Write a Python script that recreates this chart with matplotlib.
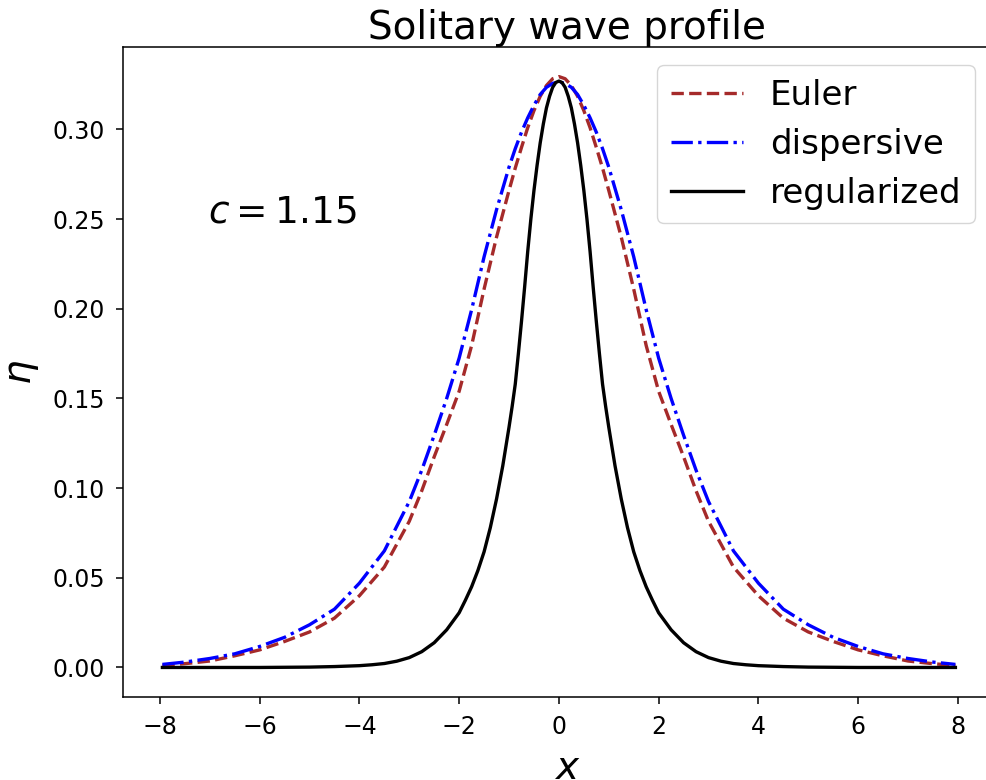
import numpy as np
import matplotlib
matplotlib.use("Agg")
import matplotlib.pyplot as plt

# values (curves are symmetric about x = 0)
x_euler_half = [0.0, 0.125, 0.25, 0.375, 0.5, 0.625, 0.75, 0.875, 1.0, 1.25, 1.5,
                1.75, 2.0, 2.25, 2.5, 2.75, 3.0, 3.5, 4.0, 4.5, 5.0, 5.5, 6.0,
                6.5, 7.0, 7.5, 7.95]
eta_euler_half = [0.3295, 0.3283, 0.3245, 0.3185, 0.3105, 0.3010, 0.2900, 0.2785,
                  0.2660, 0.2400, 0.2110, 0.1795, 0.1540, 0.1355, 0.1175, 0.0985,
                  0.0815, 0.0560, 0.0400, 0.0275, 0.0198, 0.0145, 0.0098, 0.0065,
                  0.0036, 0.0021, 0.0011]

x_disp_half = [0.0, 0.125, 0.25, 0.375, 0.5, 0.625, 0.75, 0.875, 1.0, 1.25, 1.5,
               1.75, 2.0, 2.25, 2.5, 2.75, 3.0, 3.5, 4.0, 4.5, 5.0, 5.5, 6.0,
               6.5, 7.0, 7.5, 7.95]
eta_disp_half = [0.3265, 0.3257, 0.3235, 0.3195, 0.3135, 0.3065, 0.2985, 0.2893,
                 0.2790, 0.2553, 0.2290, 0.1995, 0.1725, 0.1500, 0.1295, 0.1100,
                 0.0925, 0.0650, 0.0470, 0.0325, 0.0238, 0.0168, 0.0117, 0.0076,
                 0.0050, 0.0030, 0.0017]

x_reg_half = [0.0, 0.0625, 0.125, 0.1875, 0.25, 0.3125, 0.375, 0.4375, 0.5,
              0.5625, 0.625, 0.6875, 0.75, 0.8125, 0.875, 0.9375, 1.0, 1.125,
              1.25, 1.375, 1.5, 1.625, 1.75, 1.875, 2.0, 2.25, 2.5, 2.75, 3.0,
              3.25, 3.5, 3.75, 4.0, 4.5, 5.0, 6.0, 7.0, 7.95]
eta_reg_half = [0.3270, 0.3262, 0.3235, 0.3185, 0.3120, 0.3030, 0.2925, 0.2800,
                0.2660, 0.2500, 0.2320, 0.2120, 0.1930, 0.1750, 0.1580, 0.1455,
                0.1340, 0.1125, 0.0940, 0.0780, 0.0645, 0.0540, 0.0450, 0.0375,
                0.0305, 0.0210, 0.0138, 0.0088, 0.0055, 0.0035, 0.0022, 0.0015,
                0.0010, 0.0005, 0.0002, 0.0, 0.0, 0.0]

labels = ["Euler", "dispersive", "regularized"]
wave_speed = 1.15


def mirror(xh, yh):
    xh = np.asarray(xh)
    yh = np.asarray(yh)
    return np.concatenate([-xh[:0:-1], xh]), np.concatenate([yh[:0:-1], yh])


x_e, eta_e = mirror(x_euler_half, eta_euler_half)
x_d, eta_d = mirror(x_disp_half, eta_disp_half)
x_r, eta_r = mirror(x_reg_half, eta_reg_half)

fig = plt.figure(figsize=(9.87, 7.8), dpi=100)
# the right edge of the axes lies outside the saved picture, as in the reference
ax = fig.add_axes([0.1246, 0.1064, 0.90, 0.8333])

ax.plot(x_e, eta_e, '--', color='brown', lw=2.4, label=labels[0])
ax.plot(x_d, eta_d, '-.', color='blue', lw=2.4, label=labels[1])
ax.plot(x_r, eta_r, '-', color='black', lw=2.4, label=labels[2])

ax.set_xlim(-8.74, 9.07)
ax.set_xticks([-8, -6, -4, -2, 0, 2, 4, 6, 8])
ax.set_yticks([0.0, 0.05, 0.10, 0.15, 0.20, 0.25, 0.30])
ax.yaxis.set_major_formatter(matplotlib.ticker.FormatStrFormatter('%.2f'))
ax.tick_params(labelsize=17, length=5, width=1.1, pad=8)
for sp in ax.spines.values():
    sp.set_linewidth(1.1)
ax.spines['right'].set_visible(False)

ax.set_title("Solitary wave profile", fontsize=28, pad=4)
ax.set_xlabel("$x$", fontsize=28, labelpad=7)
ax.set_ylabel(r"$\eta$", fontsize=28, labelpad=8)
ax.text(-7.03, 0.2480, f"$c = {wave_speed}$", fontsize=27)

ax.legend(loc='upper right', bbox_to_anchor=(975 / 987, 715 / 780),
          bbox_transform=fig.transFigure, borderaxespad=0,
          fontsize=24.5, labelspacing=0.47, handlelength=2.1)

fig.savefig("out.png", dpi=100)
